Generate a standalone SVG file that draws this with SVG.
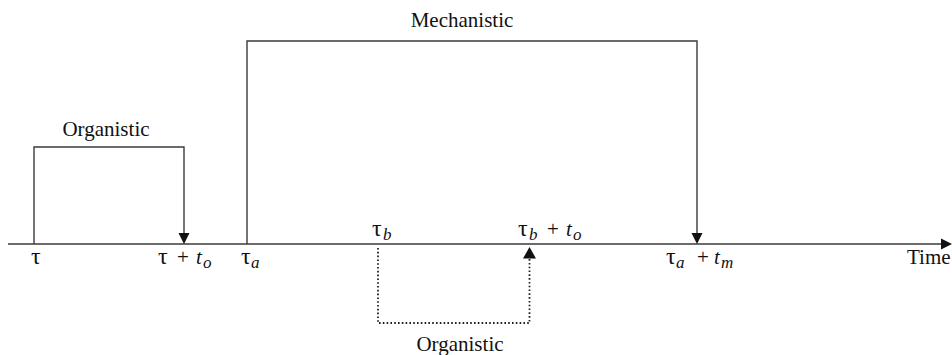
<svg xmlns="http://www.w3.org/2000/svg" width="952" height="355" viewBox="0 0 952 355" font-family="'Liberation Serif','Times New Roman',serif">
<defs>
<style>
.ln{fill:none;stroke:#3a3a3a;stroke-width:1.4}
.dot{fill:none;stroke:#222;stroke-width:1.8;stroke-dasharray:1.6 2.2}
.ah{fill:#111}
text{font-family:'Liberation Serif','Times New Roman',serif;fill:#111}
.t{font-size:21px;text-anchor:middle}
.l{font-size:21px}
.g{font-size:24px}
.s{font-size:17px;font-style:italic}
.i{font-style:italic}
</style>
</defs>
<rect width="952" height="355" fill="#fff"/>
<g id="connectors">
<line class="ln" x1="8" y1="244" x2="942" y2="244"/>
<polygon class="ah" points="952,244 941,238.5 941,249.5"/>
<polyline class="ln" points="34,244 34,147 184,147 184,234"/>
<polygon class="ah" points="184,244 178.5,233 189.5,233"/>
<polyline class="ln" points="247,244 247,41 697,41 697,234"/>
<polygon class="ah" points="697,244 691.5,233 702.5,233"/>
<polyline class="dot" points="378,248 378,323 529.5,323 529.5,258"/>
<polygon class="ah" points="529.5,247 523,258.5 536,258.5"/>
</g>
<g id="mechanistic"><text class="t" x="462" y="27">Mechanistic</text></g>
<g id="organistic-top"><text class="t" x="106" y="136">Organistic</text></g>
<g id="organistic-bottom"><text class="t" x="460" y="351">Organistic</text></g>
<g id="tau"><text class="l g" x="31" y="264">τ</text></g>
<g id="tau-to"><text class="l" y="264"><tspan class="g" x="158">τ</tspan><tspan x="177">+</tspan><tspan class="i" x="196">t</tspan><tspan class="s" x="203" dy="4">o</tspan></text></g>
<g id="tau-a"><text class="l" y="264"><tspan class="g" x="241">τ</tspan><tspan class="s" x="251" dy="4">a</tspan></text></g>
<g id="tau-b"><text class="l" y="236"><tspan class="g" x="372">τ</tspan><tspan class="s" x="383" dy="4">b</tspan></text></g>
<g id="tau-b-to"><text class="l" y="236"><tspan class="g" x="518">τ</tspan><tspan class="s" x="529" dy="4">b</tspan><tspan x="547" dy="-4">+</tspan><tspan class="i" x="566">t</tspan><tspan class="s" x="573" dy="4">o</tspan></text></g>
<g id="tau-a-tm"><text class="l" y="264"><tspan class="g" x="666">τ</tspan><tspan class="s" x="676" dy="4">a</tspan><tspan x="697" dy="-4">+</tspan><tspan class="i" x="714">t</tspan><tspan class="s" x="721" dy="4">m</tspan></text></g>
<g id="time"><text class="l" x="907" y="264">Time</text></g>
</svg>
